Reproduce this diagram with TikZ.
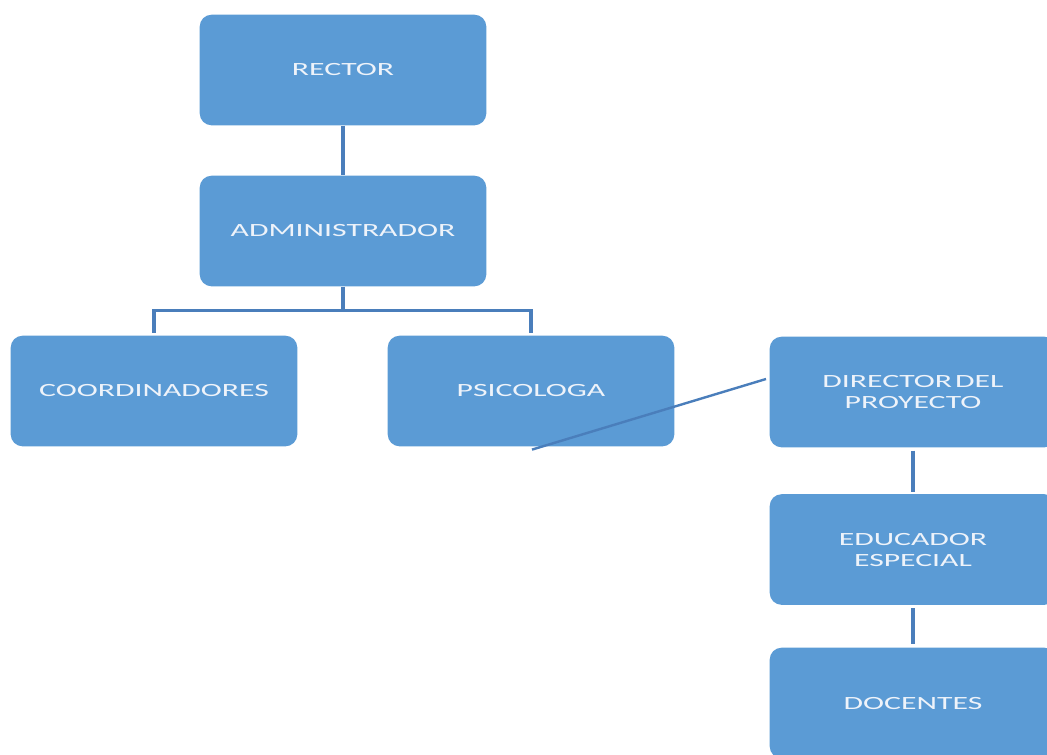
\documentclass[tikz,border=0pt]{standalone}
\usepackage{fontspec}
\newfontfamily\orgfont[FakeStretch=1.7]{Carlito}
\usetikzlibrary{calc}
\definecolor{BoxClr}{HTML}{5B9BD5}
\definecolor{LineClr}{HTML}{4A7EBB}
\definecolor{TextClr}{HTML}{EEF3FA}

\begin{document}
\begin{tikzpicture}[x=0.75pt,y=-0.75pt,
  orgbox/.style={rectangle,rounded corners=9pt,fill=BoxClr,
    minimum width=215pt,minimum height=83pt,inner sep=0pt,
    text=TextClr,align=center,font=\orgfont\fontsize{14}{15.75}\selectfont},
  link/.style={draw=LineClr,line width=2.6pt}]
\useasboundingbox (0,0) rectangle (1047,754);
\clip (0,0) rectangle (1047,754);

% boxes
\node[orgbox] (rector) at (343,70) {RECTOR};
\node[orgbox] (admin) at (343,231) {ADMINISTRADOR};
\node[orgbox] (coord) at (154,391) {COORDINADORES};
\node[orgbox] (psico) at (531,391) {PSICOLOGA};
\node[orgbox] (dir) at (913,392) {DIRECTOR\,DEL\\PROYECTO};
\node[orgbox] (edu) at (913,549.5) {EDUCADOR\\ESPECIAL};
\node[orgbox] (doc) at (913,703) {DOCENTES};

% connectors
\draw[link] (rector.south) -- (admin.north);
\draw[link] (admin.south) -- ++(0,24) coordinate (fork);
\draw[link] (fork) -| ($(coord.north)+(0,-2)$);
\draw[link] (fork) -| ($(psico.north)+(0,-2)$);
\coordinate (dirtip) at (766,379);
\draw[draw=LineClr,line width=1.8pt] (dirtip) -- ($(psico.south)+(1,3)$);
\draw[link] ($(dir.south)+(0,3)$) -- ($(edu.north)+(0,-2)$);
\draw[link] ($(edu.south)+(0,3)$) -- ($(doc.north)+(0,-3)$);
\end{tikzpicture}
\end{document}
